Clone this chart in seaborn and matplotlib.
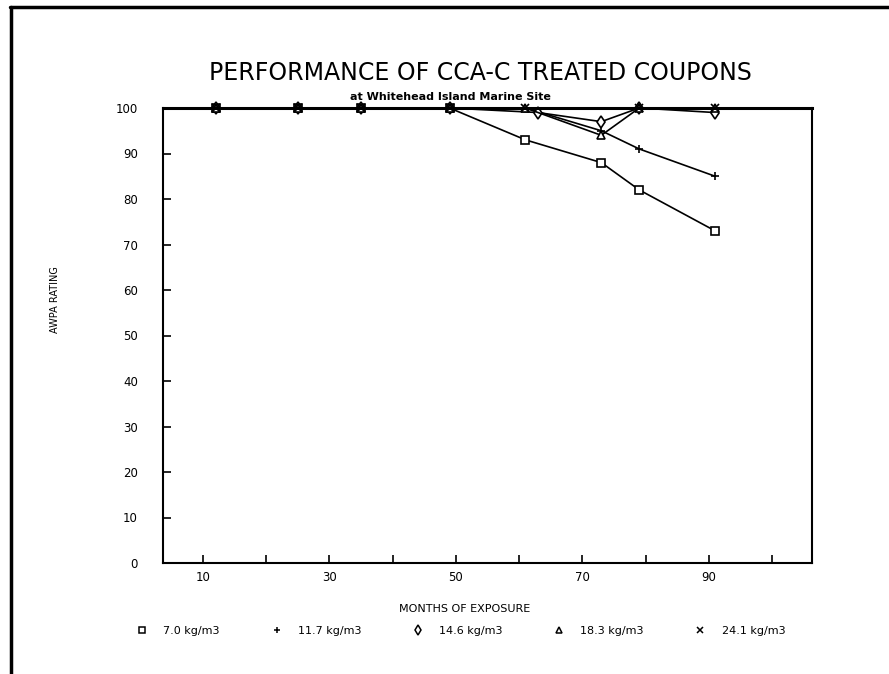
import pandas as pd
import numpy as np
import matplotlib.pyplot as plt
import seaborn as sns
from matplotlib.lines import Line2D

# values
labels = ['7.0 kg/m3', '11.7 kg/m3', '14.6 kg/m3', '18.3 kg/m3', '24.1 kg/m3']
markers = ['s', '+', 'd', '^', 'x']
months_70 = [12, 25, 35, 49, 61, 73, 79, 91]
rating_70 = [100, 100, 100, 100, 93, 88, 82, 73]
months_117 = [12, 25, 35, 49, 61, 73, 79, 91]
rating_117 = [100, 100, 100, 100, 100, 95, 91, 85]
months_146 = [12, 25, 35, 49, 63, 73, 79, 91]
rating_146 = [100, 100, 100, 100, 99, 97, 100, 99]
months_183 = [12, 25, 35, 49, 61, 73, 79, 91]
rating_183 = [100, 100, 100, 100, 100, 94, 100, 100]
months_241 = [12, 25, 35, 49, 61, 79, 91]
rating_241 = [100, 100, 100, 100, 100, 100, 100]

frames = []
for lab, m, r in zip(labels,
                     [months_70, months_117, months_146, months_183, months_241],
                     [rating_70, rating_117, rating_146, rating_183, rating_241]):
    frames.append(pd.DataFrame({'months': m, 'rating': r, 'density': lab}))
df = pd.concat(frames, ignore_index=True)

sns.set_style('ticks')
plt.rcParams['font.family'] = ['DejaVu Sans']
plt.rcParams['text.color'] = 'black'
plt.rcParams['axes.labelcolor'] = 'black'
plt.rcParams['xtick.color'] = 'black'
plt.rcParams['ytick.color'] = 'black'

fig, ax = plt.subplots(figsize=(8.89, 6.74), dpi=100)
fig.subplots_adjust(left=163/889, right=812/889, top=1-108/674, bottom=1-563/674)

# seaborn won't mix filled and line-art markers in one call, so one series at a time
for lab, mk in zip(labels, markers):
    sub = df[df['density'] == lab]
    sns.lineplot(data=sub, x='months', y='rating', marker=mk, color='black', ax=ax,
                 lw=1.2, ms=6, mec='black', mfc='white', mew=1.2, legend=False,
                 clip_on=False)

ax.set_xlim(3.67, 106.33)
ax.set_ylim(0, 100)
ax.set_xticks([10, 30, 50, 70, 90])
ax.set_xticks(np.arange(20, 101, 20), minor=True)
ax.set_yticks(np.arange(0, 101, 10))
ax.tick_params(axis='both', which='major', direction='in', length=6, width=1.2,
               labelsize=8.5)
ax.tick_params(axis='x', which='minor', direction='in', length=6, width=1.2)
ax.tick_params(axis='y', which='major', pad=18)
ax.tick_params(axis='x', which='major', pad=6)
for s in ax.spines.values():
    s.set_linewidth(1.5)
    s.set_color('black')
ax.spines['top'].set_linewidth(2.2)

ax.set_xlabel('MONTHS OF EXPOSURE', fontsize=8)
ax.set_ylabel('AWPA RATING', fontsize=7)
ax.xaxis.set_label_coords((465-163)/(812-163), -(604-563)/(563-108))
ax.yaxis.set_label_coords(-(163-60)/(812-163), 0.58)

fig.text(480/889, 1-73/674, 'PERFORMANCE OF CCA-C TREATED COUPONS', ha='center', va='center',
         fontsize=17)
fig.text(450/889, 1-97/674, 'at Whitehead Island Marine Site', ha='center', va='center',
         fontsize=8, fontweight='bold')

handles = [Line2D([], [], ls='none', marker=mk, color='black', mfc='white',
                  ms=5, mew=1.1) for mk in markers]
fig.legend(handles, labels, ncol=5, loc='center', bbox_to_anchor=(461/889, 1-631/674),
           frameon=False, fontsize=8, handletextpad=1.4, columnspacing=4.6, handlelength=1)

# page frame from the scan
fig.add_artist(Line2D([10/889, 1], [1-7/674, 1-7/674], color='black', lw=2.5,
                      transform=fig.transFigure))
fig.add_artist(Line2D([11/889, 11/889], [0, 1-7/674], color='black', lw=2.5,
                      transform=fig.transFigure))

fig.savefig('out.png', dpi=100)
